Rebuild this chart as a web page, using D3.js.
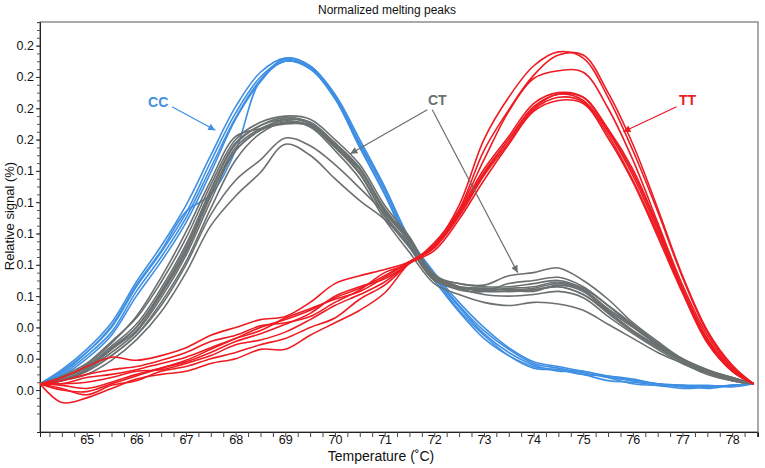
<!DOCTYPE html>
<html><head><meta charset="utf-8">
<script src="https://cdn.jsdelivr.net/npm/d3@7"></script>
<style>
body{margin:0;background:#fff;}
svg{display:block;font-family:"Liberation Sans",Arial,sans-serif;}
</style></head>
<body>
<svg id="chart" width="765" height="468"></svg>
<script>
// Temperature grid (°C)
const temps = [64.06,64.5,65,65.5,66,66.5,67,67.5,68,68.5,69,69.5,70,70.5,71,71.5,72,72.5,73,73.5,74,74.5,75,75.5,76,76.5,77,77.5,78,78.43];

// CC genotype (blue)
const cc1 = [.004,.012,.024,.040,.066,.088,.113,.146,.177,.200,.211,.206,.187,.157,.128,.096,.074,.054,.038,.026,.017,.014,.011,.008,.006,.004,.002,.002,.003,.004];
const cc2 = [.004,.013,.026,.043,.069,.092,.118,.150,.181,.203,.212,.207,.189,.160,.130,.097,.075,.056,.040,.027,.018,.015,.012,.009,.006,.004,.003,.001,.003,.004];
const cc3 = [.004,.010,.022,.037,.063,.085,.110,.142,.174,.198,.210,.205,.186,.155,.126,.094,.072,.051,.035,.022,.014,.013,.010,.006,.005,.003,.001,.002,.003,.004];
const cc4 = [.004,.011,.024,.041,.067,.089,.114,.125,.153,.198,.210,.206,.188,.158,.129,.096,.073,.053,.036,.024,.016,.012,.012,.008,.004,.003,.003,.003,.002,.004];
const cc5 = [.004,.009,.020,.035,.060,.082,.107,.139,.173,.197,.212,.207,.187,.155,.125,.092,.070,.050,.033,.022,.015,.013,.010,.009,.007,.004,.003,.002,.003,.004];

// CT genotype (gray)
const ct1 = [.004,.008,.014,.027,.040,.063,.091,.127,.157,.169,.174,.171,.158,.142,.115,.096,.072,.066,.065,.064,.065,.068,.064,.051,.040,.029,.019,.012,.007,.004];
const ct2 = [.004,.009,.017,.031,.046,.069,.097,.131,.160,.171,.175,.173,.160,.144,.118,.098,.073,.068,.066,.066,.068,.070,.065,.054,.042,.030,.020,.013,.008,.004];
const ct3 = [.004,.006,.013,.024,.037,.059,.086,.121,.153,.166,.173,.170,.156,.139,.112,.093,.070,.065,.064,.063,.064,.066,.061,.049,.037,.027,.018,.011,.006,.004];
const ct4 = [.004,.008,.015,.028,.042,.065,.093,.128,.158,.169,.173,.171,.157,.141,.114,.095,.073,.068,.067,.073,.075,.078,.070,.058,.043,.031,.020,.013,.008,.004];
const ct5 = [.004,.006,.012,.022,.035,.056,.082,.116,.147,.164,.171,.168,.153,.135,.109,.088,.068,.061,.056,.054,.056,.055,.051,.042,.033,.024,.017,.010,.006,.004];
const ct6 = [.004,.006,.010,.019,.032,.050,.075,.105,.124,.139,.157,.150,.135,.121,.109,.092,.072,.065,.061,.060,.061,.063,.059,.047,.036,.026,.017,.011,.007,.004];
const ct7 = [.004,.006,.012,.022,.035,.054,.080,.112,.134,.147,.161,.156,.144,.129,.113,.095,.074,.066,.063,.063,.064,.066,.061,.050,.038,.028,.019,.012,.007,.004];
const ct8 = [.004,.008,.016,.030,.047,.072,.101,.134,.162,.167,.171,.169,.155,.141,.115,.097,.073,.066,.064,.065,.066,.069,.064,.052,.041,.029,.019,.012,.008,.004];
const ct9 = [.004,.007,.013,.026,.038,.061,.088,.124,.155,.167,.172,.169,.157,.141,.116,.096,.071,.064,.063,.068,.070,.072,.066,.054,.041,.029,.019,.012,.007,.004];
const ct10 = [.004,.008,.015,.026,.040,.062,.089,.125,.153,.166,.170,.169,.155,.138,.111,.091,.070,.066,.065,.064,.063,.067,.063,.050,.038,.028,.018,.011,.006,.004];

// TT genotype (red)
const tt1 = [.004,-.008,-.005,.001,.007,.010,.012,.017,.020,.026,.026,.035,.043,.051,.062,.081,.091,.113,.139,.160,.180,.189,.185,.165,.137,.102,.064,.032,.013,.004];
const tt2 = [.004,.008,.015,.021,.019,.022,.027,.035,.040,.045,.047,.056,.068,.073,.077,.082,.093,.118,.160,.187,.207,.216,.212,.187,.153,.114,.072,.037,.015,.004];
const tt3 = [.004,.000,-.001,.004,.009,.014,.018,.024,.031,.036,.042,.049,.060,.066,.071,.081,.091,.111,.137,.158,.179,.187,.184,.163,.134,.100,.063,.031,.012,.004];
const tt4 = [.004,.004,.008,.010,.013,.017,.021,.027,.033,.038,.046,.052,.058,.063,.072,.082,.092,.115,.153,.179,.201,.214,.214,.190,.157,.116,.073,.038,.016,.004];
const tt5 = [.004,.001,-.003,.003,.006,.012,.015,.020,.024,.029,.033,.040,.046,.058,.067,.081,.092,.114,.141,.162,.183,.190,.187,.166,.139,.104,.064,.032,.013,.004];
const tt6 = [.004,.004,.005,.008,.012,.013,.017,.022,.029,.032,.037,.045,.054,.061,.069,.081,.089,.109,.134,.157,.178,.185,.183,.161,.133,.098,.062,.030,.012,.004];
const tt7 = [.004,.003,.001,.005,.010,.014,.019,.026,.033,.040,.045,.051,.059,.065,.073,.082,.091,.112,.138,.160,.181,.189,.187,.167,.141,.105,.065,.033,.013,.004];
const tt8 = [.004,.006,.010,.013,.015,.019,.024,.031,.035,.041,.043,.047,.056,.064,.075,.081,.094,.115,.147,.178,.199,.204,.203,.180,.147,.107,.067,.035,.014,.004];

const xTicks = [65,66,67,68,69,70,71,72,73,74,75,76,77,78];
const yTicks = [0,0.02,0.04,0.06,0.08,0.10,0.12,0.14,0.16,0.18,0.20,0.22];

const groups = [
  {name:"CC", color:"#3f8fe3", curves:[cc1,cc2,cc3,cc4,cc5]},
  {name:"CT", color:"#6a7070", curves:[ct1,ct2,ct3,ct4,ct5,ct6,ct7,ct8,ct9,ct10]},
  {name:"TT", color:"#ee1b22", curves:[tt1,tt2,tt3,tt4,tt5,tt6,tt7,tt8]}
];

// annotation: label position and arrows in data coordinates
const notes = [
  {text:"CC", color:"#3f8fe3", at:[66.44,0.184], arrows:[[[66.72,0.181],[67.59,0.166]]]},
  {text:"CT", color:"#6a7070", at:[72.06,0.185], arrows:[[[71.86,0.179],[70.31,0.151]],[[71.96,0.179],[73.68,0.075]]]},
  {text:"TT", color:"#ee1b22", at:[77.10,0.185], arrows:[[[76.88,0.181],[75.81,0.165]]]}
];

const svg = d3.select("#chart");
const L=40, T=22, R=758, B=432;
const x = d3.scaleLinear().domain([64.06,78.52]).range([L,R]);
const y = d3.scaleLinear().domain([-0.0268,0.2351]).range([B,T]);

// title
svg.append("text").attr("x",387).attr("y",14).attr("text-anchor","middle")
  .attr("font-size",12).attr("fill","#111").text("Normalized melting peaks");

// frame
svg.append("rect").attr("x",L).attr("y",T).attr("width",R-L).attr("height",B-T)
  .attr("fill","none").attr("stroke","#555").attr("stroke-width",1);

// clip
svg.append("clipPath").attr("id","clip").append("rect").attr("x",L).attr("y",T).attr("width",R-L).attr("height",B-T);

// x axis minor ticks
const xMinor = d3.range(64.25, 78.51, 0.25);
const gx = svg.append("g").attr("transform",`translate(0,${B})`);
gx.call(d3.axisBottom(x).tickValues(xMinor).tickSize(5).tickFormat(""));
gx.select(".domain").attr("stroke","#222");
gx.selectAll(".tick line").attr("stroke","#444");
const gx2 = svg.append("g").attr("transform",`translate(0,${B})`);
gx2.call(d3.axisBottom(x).tickValues(xTicks).tickSize(0).tickPadding(3).tickFormat(d3.format("d")));
gx2.select(".domain").remove();
gx2.selectAll("text").attr("font-size",12.5).attr("fill","#111").attr("font-family","Liberation Sans, Arial, sans-serif");

// y axis
const yMinor = d3.range(-0.015, 0.2351, 0.005);
const gy = svg.append("g").attr("transform",`translate(${L},0)`);
gy.call(d3.axisLeft(y).tickValues(yMinor).tickSize(3).tickFormat(""));
gy.select(".domain").attr("stroke","#222");
gy.selectAll(".tick line").attr("stroke","#555");
const gy2 = svg.append("g").attr("transform",`translate(${L},0)`);
gy2.call(d3.axisLeft(y).tickValues(yTicks).tickSize(4).tickPadding(2).tickFormat(d3.format(".1f")));
gy2.select(".domain").remove();
gy2.selectAll(".tick line").attr("stroke","#333");
gy2.selectAll("text").attr("font-size",12.5).attr("fill","#111").attr("font-family","Liberation Sans, Arial, sans-serif");

// axis titles
svg.append("text").attr("x",381).attr("y",461).attr("text-anchor","middle")
  .attr("font-size",14).attr("fill","#111").text("Temperature (˚C)");
svg.append("text").attr("transform","translate(14,216) rotate(-90)").attr("text-anchor","middle")
  .attr("font-size",13).attr("fill","#111").text("Relative signal (%)");

// curves
const line = d3.line().x((d,i)=>x(temps[i])).y(d=>y(d)).curve(d3.curveCatmullRom.alpha(0.5));
const plot = svg.append("g").attr("clip-path","url(#clip)");
groups.forEach(g=>{
  plot.append("g").selectAll("path").data(g.curves).join("path")
    .attr("d",line).attr("fill","none").attr("stroke",g.color)
    .attr("stroke-width",1.6).attr("stroke-linejoin","round");
});

// annotations
const defs = svg.append("defs");
notes.forEach((n,k)=>{
  defs.append("marker").attr("id","ah"+k).attr("viewBox","0 0 10 10").attr("refX",10).attr("refY",5)
    .attr("markerWidth",9).attr("markerHeight",7).attr("markerUnits","userSpaceOnUse").attr("orient","auto")
    .append("path").attr("d","M0,0L10,5L0,10z").attr("fill",n.color);
  svg.append("text").attr("x",x(n.at[0])).attr("y",y(n.at[1])+5).attr("text-anchor","middle")
    .attr("font-size",14).attr("font-weight","bold").attr("fill",n.color).text(n.text);
  n.arrows.forEach(a=>{
    svg.append("line").attr("x1",x(a[0][0])).attr("y1",y(a[0][1])).attr("x2",x(a[1][0])).attr("y2",y(a[1][1]))
      .attr("stroke",n.color).attr("stroke-width",1.2).attr("marker-end",`url(#ah${k})`);
  });
});
</script>
</body></html>
